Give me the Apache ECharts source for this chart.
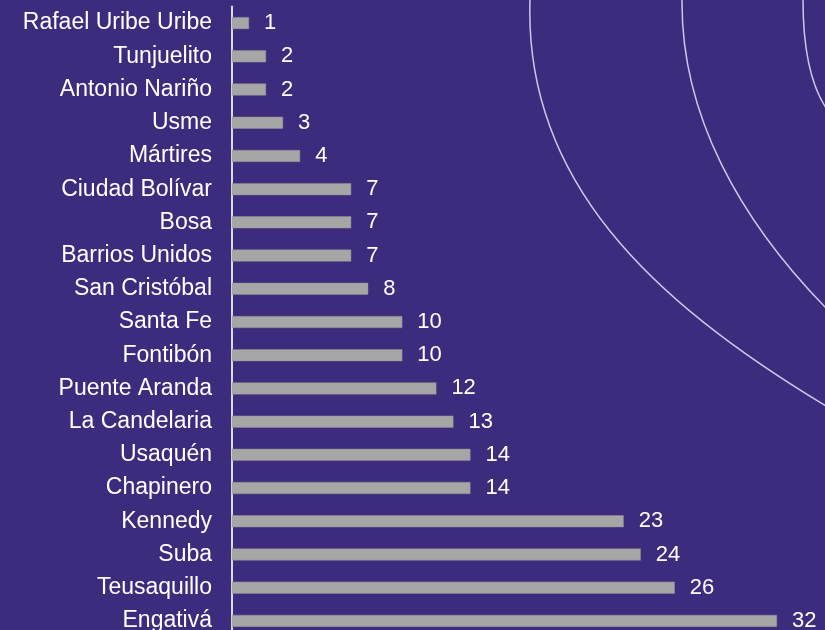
<!DOCTYPE html>
<html>
<head>
<meta charset="utf-8">
<script src="https://cdn.jsdelivr.net/npm/echarts@6/dist/echarts.min.js"></script>
<style>
  html, body { margin: 0; padding: 0; background: #3d2b7d; }
  #main { width: 825px; height: 630px; }
</style>
</head>
<body>
<div id="main"></div>
<script>
// localidades, de arriba hacia abajo
const localidades = ['Rafael Uribe Uribe', 'Tunjuelito', 'Antonio Nariño', 'Usme', 'Mártires',
  'Ciudad Bolívar', 'Bosa', 'Barrios Unidos', 'San Cristóbal', 'Santa Fe', 'Fontibón',
  'Puente Aranda', 'La Candelaria', 'Usaquén', 'Chapinero', 'Kennedy', 'Suba', 'Teusaquillo', 'Engativá'];
const cantidades = [1, 2, 2, 3, 4, 7, 7, 7, 8, 10, 10, 12, 13, 14, 14, 23, 24, 26, 32];

const fuente = '"Liberation Sans", Arial, sans-serif';

let myChart = echarts.init(document.getElementById('main'));

// arcos decorativos de fondo
const arco = (pts) => ({
  type: 'bezierCurve',
  z: -1,
  silent: true,
  shape: {
    x1: pts[0][0], y1: pts[0][1],
    cpx1: pts[1][0], cpy1: pts[1][1],
    cpx2: pts[2][0], cpy2: pts[2][1],
    x2: pts[3][0], y2: pts[3][1]
  },
  style: { stroke: '#cfc6ee', lineWidth: 1.5, fill: null }
});

let option = {
  backgroundColor: '#3d2b7d',
  animation: false,
  graphic: [
    arco([[530, 0], [524, 180], [650, 300], [826, 406]]),
    arco([[682, 0], [681, 115], [740, 220], [826, 308]]),
    arco([[803, 0], [803, 50], [811, 85], [826, 108]])
  ],
  grid: {
    left: 232,
    top: 6.5,
    width: 545,
    height: 631,
    outerBoundsMode: 'none'
  },
  xAxis: {
    type: 'value',
    min: 0,
    max: 32,
    show: false,
    splitLine: { show: false }
  },
  yAxis: {
    type: 'category',
    inverse: true,
    data: localidades,
    axisLine: { lineStyle: { color: '#d9d9d9', width: 2 } },
    axisTick: { show: false },
    axisLabel: {
      color: '#ffffff',
      fontSize: 23,
      fontFamily: fuente,
      margin: 20
    }
  },
  series: [
    {
      type: 'bar',
      data: cantidades,
      barWidth: 12,
      itemStyle: { color: '#a6a6a6', borderColor: '#8f8f8f', borderWidth: 0.5 },
      label: {
        show: true,
        position: 'right',
        distance: 15,
        color: '#ffffff',
        fontSize: 22,
        fontFamily: fuente
      }
    }
  ]
};

myChart.setOption(option);
</script>
</body>
</html>
